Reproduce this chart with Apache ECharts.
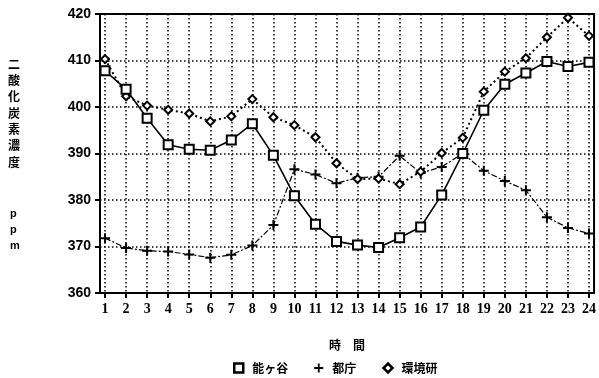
<!DOCTYPE html>
<html>
<head>
<meta charset="utf-8">
<script src="https://cdn.jsdelivr.net/npm/echarts@6/dist/echarts.min.js"></script>
<style>
  html, body { margin: 0; padding: 0; background: #fff; }
  #chart { width: 599px; height: 378px; }
</style>
</head>
<body>
<div id="chart"></div>
<script>
// hours 1..24
const hours = [1, 2, 3, 4, 5, 6, 7, 8, 9, 10, 11, 12, 13, 14, 15, 16, 17, 18, 19, 20, 21, 22, 23, 24]
const seriesNames = ['能ヶ谷', '都庁', '環境研']

// CO2 ppm
const nogaya = [407.8, 403.8, 397.6, 391.9, 390.9, 390.7, 392.9, 396.4, 389.6, 380.9, 374.8, 371.1, 370.3, 369.8, 371.9, 374.2, 381.1, 390.0, 399.3, 404.9, 407.3, 409.8, 408.7, 409.6]
const tocho = [371.8, 369.7, 369.1, 368.9, 368.3, 367.6, 368.2, 370.2, 374.6, 386.6, 385.5, 383.6, 384.8, 385.0, 389.5, 385.8, 387.1, 390.0, 386.3, 384.1, 382.1, 376.3, 374.0, 372.8]
const kankyoken = [410.3, 402.3, 400.3, 399.4, 398.6, 396.9, 398.0, 401.7, 397.8, 396.1, 393.5, 387.9, 384.5, 384.6, 383.4, 386.1, 390.1, 393.4, 403.3, 407.6, 410.5, 415.0, 419.2, 415.3]

const plusPath = 'path://M4,0h2v4h4v2h-4v4h-2v-4h-4v-2h4z'
const diamondPath = 'path://M5,0L10,5L5,10L0,5Z'

const chart = echarts.init(document.getElementById('chart'))

const pair = arr => hours.map((h, i) => [h, arr[i]])

const option = {
  animation: false,
  backgroundColor: '#fff',
  grid: {
    left: 100, right: 4, top: 14, bottom: 85,
    show: true, borderColor: '#000', borderWidth: 2, backgroundColor: 'transparent'
  },
  xAxis: {
    type: 'value',
    min: 0.76,
    max: 24.24,
    name: '時　間',
    nameLocation: 'middle',
    nameGap: 46,
    nameTextStyle: { color: '#000', fontSize: 12, fontWeight: 'bold', fontFamily: 'Noto Sans CJK JP' },
    axisLine: { show: true, onZero: false, lineStyle: { color: '#000', width: 2 } },
    axisTick: { show: true, length: 5, lineStyle: { color: '#000', width: 2 }, customValues: hours },
    axisLabel: {
      customValues: hours, margin: 9, color: '#000',
      fontSize: 14, fontWeight: 'bold', fontFamily: 'Liberation Serif'
    },
    splitLine: { show: true, lineStyle: { color: '#000', type: [1.5, 2.5], width: 1.5 } }
  },
  yAxis: {
    type: 'value',
    min: 360,
    max: 420,
    interval: 10,
    axisLine: { show: true, lineStyle: { color: '#000', width: 2 } },
    axisTick: { show: true, length: 5, lineStyle: { color: '#000', width: 2 } },
    axisLabel: {
      margin: 9, color: '#000',
      fontSize: 14, fontWeight: 'bold', fontFamily: 'Liberation Sans'
    },
    splitLine: { show: true, lineStyle: { color: '#000', type: [1.5, 2.5], width: 1.5 } }
  },
  legend: {
    left: 228,
    top: 357,
    itemWidth: 9,
    itemHeight: 9,
    itemGap: 26,
    textStyle: { color: '#000', fontSize: 12, fontWeight: 'bold', fontFamily: 'Noto Sans CJK JP', padding: [0, 0, 0, 4] },
    data: [
      { name: seriesNames[0], icon: 'rect', itemStyle: { color: '#fff', borderColor: '#000', borderWidth: 2.5 } },
      { name: seriesNames[1], icon: plusPath, itemStyle: { color: '#000', borderWidth: 0 } },
      { name: seriesNames[2], icon: diamondPath, itemStyle: { color: '#fff', borderColor: '#000', borderWidth: 2.5 } }
    ]
  },
  graphic: [
    {
      type: 'text', left: 8, top: 56,
      style: {
        text: '二\n酸\n化\n炭\n素\n濃\n度', fill: '#000',
        font: 'bold 12px "Noto Sans CJK JP"', lineHeight: 16.3
      }
    },
    {
      type: 'text', left: 10, top: 206,
      style: {
        text: 'p\np\nm', fill: '#000',
        font: 'bold 11px "Liberation Sans"', lineHeight: 16
      }
    }
  ],
  series: [
    {
      name: seriesNames[0],
      type: 'line',
      data: pair(nogaya),
      symbol: 'rect',
      symbolSize: 9,
      showAllSymbol: true,
      itemStyle: { color: '#fff', borderColor: '#000', borderWidth: 2 },
      lineStyle: { color: '#000', width: 1.6 },
      z: 3
    },
    {
      name: seriesNames[1],
      type: 'line',
      data: pair(tocho),
      symbol: plusPath,
      symbolSize: 10,
      showAllSymbol: true,
      itemStyle: { color: '#000', borderWidth: 0 },
      lineStyle: { color: '#000', width: 1.2, type: [6, 2, 2, 2] },
      z: 2
    },
    {
      name: seriesNames[2],
      type: 'line',
      data: pair(kankyoken),
      symbol: diamondPath,
      symbolSize: 8,
      showAllSymbol: true,
      itemStyle: { color: '#fff', borderColor: '#000', borderWidth: 2 },
      lineStyle: { color: '#000', width: 2, type: [2, 3] },
      z: 2
    }
  ]
}

chart.setOption(option)
</script>
</body>
</html>
